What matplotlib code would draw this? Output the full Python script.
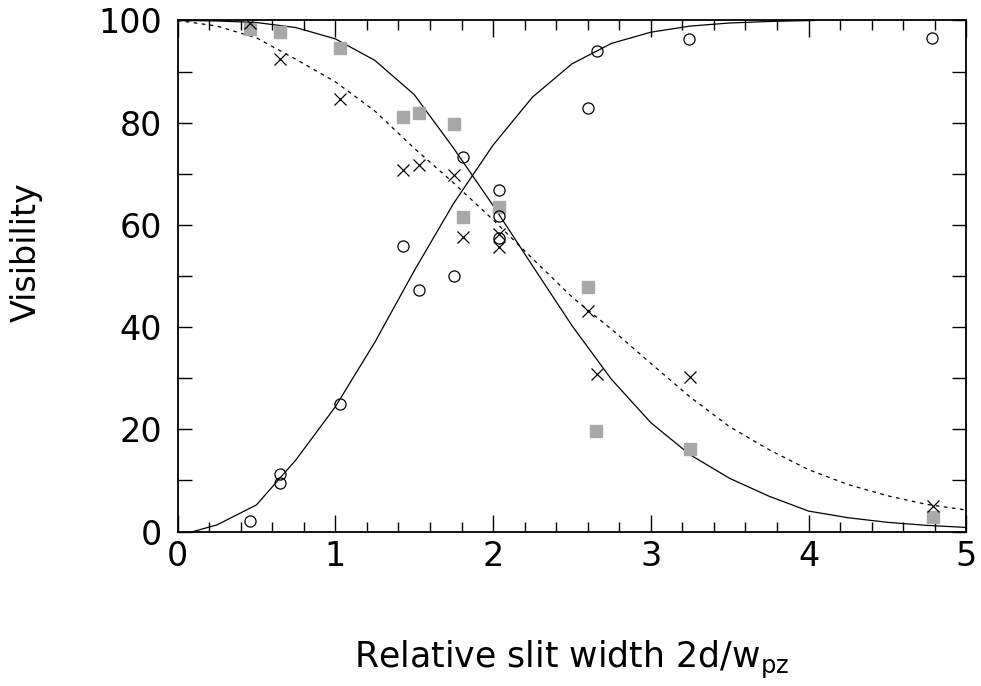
import matplotlib
matplotlib.use("Agg")
import matplotlib.pyplot as plt
from matplotlib.ticker import MultipleLocator

plt.rcParams['font.family'] = ['DejaVu Sans']
plt.rcParams['mathtext.default'] = 'regular'

circ_x = [0.46, 0.65, 0.65, 1.03, 1.43, 1.53, 1.75, 1.81, 2.04, 2.04, 2.04, 2.60, 2.66, 3.24, 4.78]
circ_y = [2.0, 11.2, 9.4, 25.0, 55.8, 47.3, 50.0, 73.3, 66.8, 61.8, 57.5, 82.8, 94.0, 96.4, 96.5]

cross_x = [0.46, 0.65, 1.03, 1.43, 1.53, 1.75, 1.81, 2.04, 2.04, 2.60, 2.66, 3.25, 4.79]
cross_y = [99.5, 92.5, 84.6, 70.7, 71.8, 69.7, 57.7, 58.3, 55.6, 43.2, 30.9, 30.2, 4.9]

sq_x = [0.46, 0.65, 1.03, 1.43, 1.53, 1.75, 1.81, 2.04, 2.60, 2.65, 3.25, 4.79]
sq_y = [98.3, 97.7, 94.7, 81.2, 81.8, 79.7, 61.5, 63.4, 47.9, 19.7, 16.1, 2.9]

# fitted curves
fit_x = [0, 0.25, 0.5, 0.75, 1.0, 1.25, 1.5, 1.75, 2.0, 2.25, 2.5,
         2.75, 3.0, 3.25, 3.5, 3.75, 4.0, 4.25, 4.5, 4.75, 5.0]
fall_solid = [100, 99.9, 99.6, 98.6, 96.4, 92.2, 85.5, 75.0, 63.8, 52.0, 40.3,
              29.8, 21.3, 15.0, 10.4, 6.9, 4.0, 2.7, 1.8, 1.2, 0.8]
fall_dashed = [100, 98.9, 96.6, 92.4, 88.0, 82.3, 75.0, 68.2, 61.0, 53.4, 45.9,
               39.6, 32.9, 26.3, 20.5, 16.0, 12.1, 9.2, 7.0, 5.3, 4.2]

rise_x = [0.1, 0.25, 0.5, 0.75, 1.0, 1.25, 1.5, 1.75, 2.0, 2.25, 2.5,
          2.75, 3.0, 3.25, 3.5, 3.75, 4.04]
rise_solid = [0.0, 1.3, 5.2, 14.0, 24.4, 37.0, 51.0, 64.2, 75.6, 85.0, 91.5,
              95.5, 97.7, 98.9, 99.5, 99.8, 100.0]

fig = plt.figure(figsize=(9.81, 6.86), dpi=100)
ax = fig.add_axes([0.181, 0.2252, 0.804, 0.745])

ax.plot(rise_x, rise_solid, color='black', lw=0.9)
ax.plot(fit_x, fall_solid, color='black', lw=0.9)
ax.plot(fit_x, fall_dashed, color='black', lw=0.9, linestyle=(0, (3, 3.5)))

ax.plot(sq_x, sq_y, linestyle='none', marker='s', markersize=8.5,
        markerfacecolor='#a8a8a8', markeredgecolor='#a8a8a8')
ax.plot(cross_x, cross_y, linestyle='none', marker='x', markersize=8.5,
        markeredgewidth=0.9, color='black')
ax.plot(circ_x, circ_y, linestyle='none', marker='o', markersize=8,
        markerfacecolor='none', markeredgewidth=0.9, markeredgecolor='black')

ax.set_xlim(0, 5)
ax.set_ylim(0, 100)
ax.xaxis.set_major_locator(MultipleLocator(1))
ax.xaxis.set_minor_locator(MultipleLocator(0.2))
ax.yaxis.set_major_locator(MultipleLocator(20))
ax.yaxis.set_minor_locator(MultipleLocator(10))

ax.tick_params(axis='both', which='both', direction='in', top=True, right=True,
               width=1.0, labelsize=24)
ax.tick_params(axis='x', which='major', length=12, pad=6)
ax.tick_params(axis='x', which='minor', length=7)
ax.tick_params(axis='y', which='major', length=10, pad=11)
ax.tick_params(axis='y', which='minor', length=10)
for s in ax.spines.values():
    s.set_linewidth(1.3)

ax.set_xlabel('Relative slit width 2d/w$_{pz}$', fontsize=25)
ax.xaxis.set_label_coords(0.5, -0.21)
ax.set_ylabel('Visibility', fontsize=24)
ax.yaxis.set_label_coords(-0.171, 0.547)

fig.savefig('out.png', dpi=100)
